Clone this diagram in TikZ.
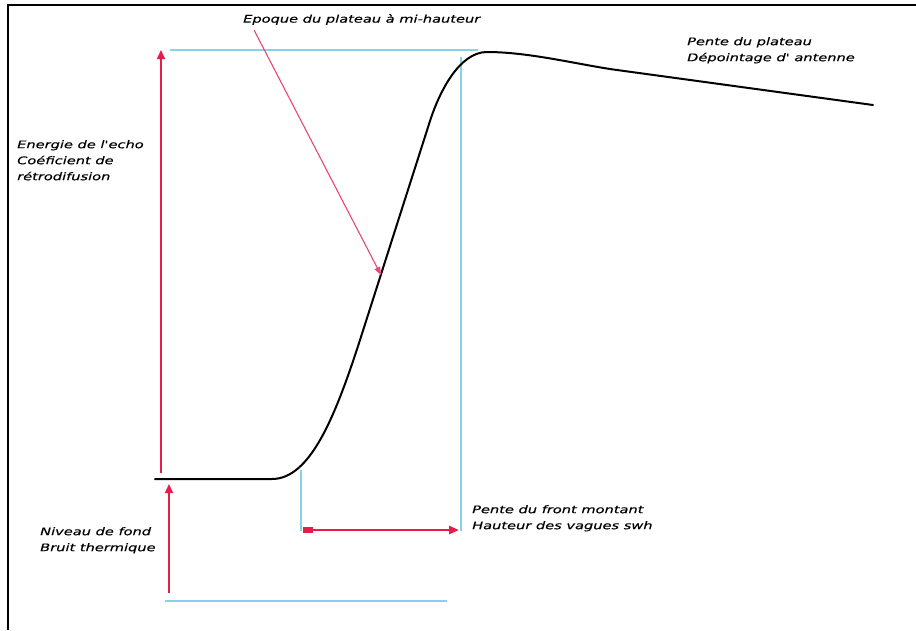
\documentclass[tikz,border=0pt]{standalone}
\usepackage{fontspec}
\newfontfamily\lab[FakeStretch=1.39,FakeBold=0.4]{DejaVu Sans}
\usetikzlibrary{arrows.meta}
\definecolor{redarr}{RGB}{232,28,72}
\definecolor{pinkarr}{RGB}{232,70,115}
\definecolor{cyanl}{RGB}{135,210,235}
\tikzset{
  lbl/.style={anchor=north west, inner sep=0pt, align=left, font={\lab\itshape\fontsize{10.5}{16}\selectfont}},
  cyanline/.style={draw=cyanl, line width=1.2pt},
  redup/.style={draw=redarr, line width=1.5pt, -{Triangle[length=9pt,width=8pt]}},
}
\begin{document}
\begin{tikzpicture}[x=1pt,y=-1pt]
\useasboundingbox (0,0) rectangle (916,630);
% frame
\draw[line width=1.5pt] (8,630) -- (8,5) -- (916,5);
% coordinates
\coordinate (eBot) at (161,473);
\coordinate (eTop) at (161,50);
\coordinate (topL) at (170,50);
\coordinate (topR) at (478,50);
\coordinate (rvTop) at (461,57);
\coordinate (rvBot) at (461,531);
\coordinate (lvTop) at (301,470);
\coordinate (lvBot) at (301,531);
\coordinate (hStart) at (303,530);
\coordinate (hEnd) at (459,530);
\coordinate (nBot) at (169,593);
\coordinate (nTop) at (169,484);
\coordinate (bL) at (165,601);
\coordinate (bR) at (447,601);
\coordinate (dStart) at (254,30);
\coordinate (dEnd) at (381,275);
% cyan guide lines
\draw[cyanline] (topL) -- (topR);
\draw[cyanline] (rvTop) -- (rvBot);
\draw[cyanline] (lvTop) -- (lvBot);
\draw[cyanline] (bL) -- (bR);
% echo curve
\draw[line width=2pt, line cap=round, line join=round]
  (155,479) -- (272,479)
  .. controls (310,479) and (335,417.5) .. (360,340)
  -- (430,121)
  .. controls (440,90) and (460,52) .. (487,52)
  .. controls (530,52) and (580,65) .. (617,70)
  -- (873,105);
% red arrows
\draw[redup] (eBot) -- (eTop);
\draw[redup] (nBot) -- (nTop);
\draw[draw=redarr, line width=2.5pt, {Rectangle[length=10pt,width=6pt]}-{Triangle[length=10pt,width=8pt]}] (hStart) -- (hEnd);
\draw[draw=pinkarr, line width=1.1pt, -{Triangle[length=8pt,width=6pt]}] (dStart) -- (dEnd);
% labels
\node[lbl] (ep) at (243,14) {Epoque du plateau à mi-hauteur};
\node[lbl] (pp) at (687,37) {Pente du plateau\\Dépointage d' antenne};
\node[lbl] (en) at (17,140) {Energie de l'echo\\Coéficient de\\rétrodifusion};
\node[lbl] (pf) at (472,505) {Pente du front montant\\Hauteur des vagues swh};
\node[lbl] (nf) at (40,527) {Niveau de fond\\Bruit thermique};
\end{tikzpicture}
\end{document}
